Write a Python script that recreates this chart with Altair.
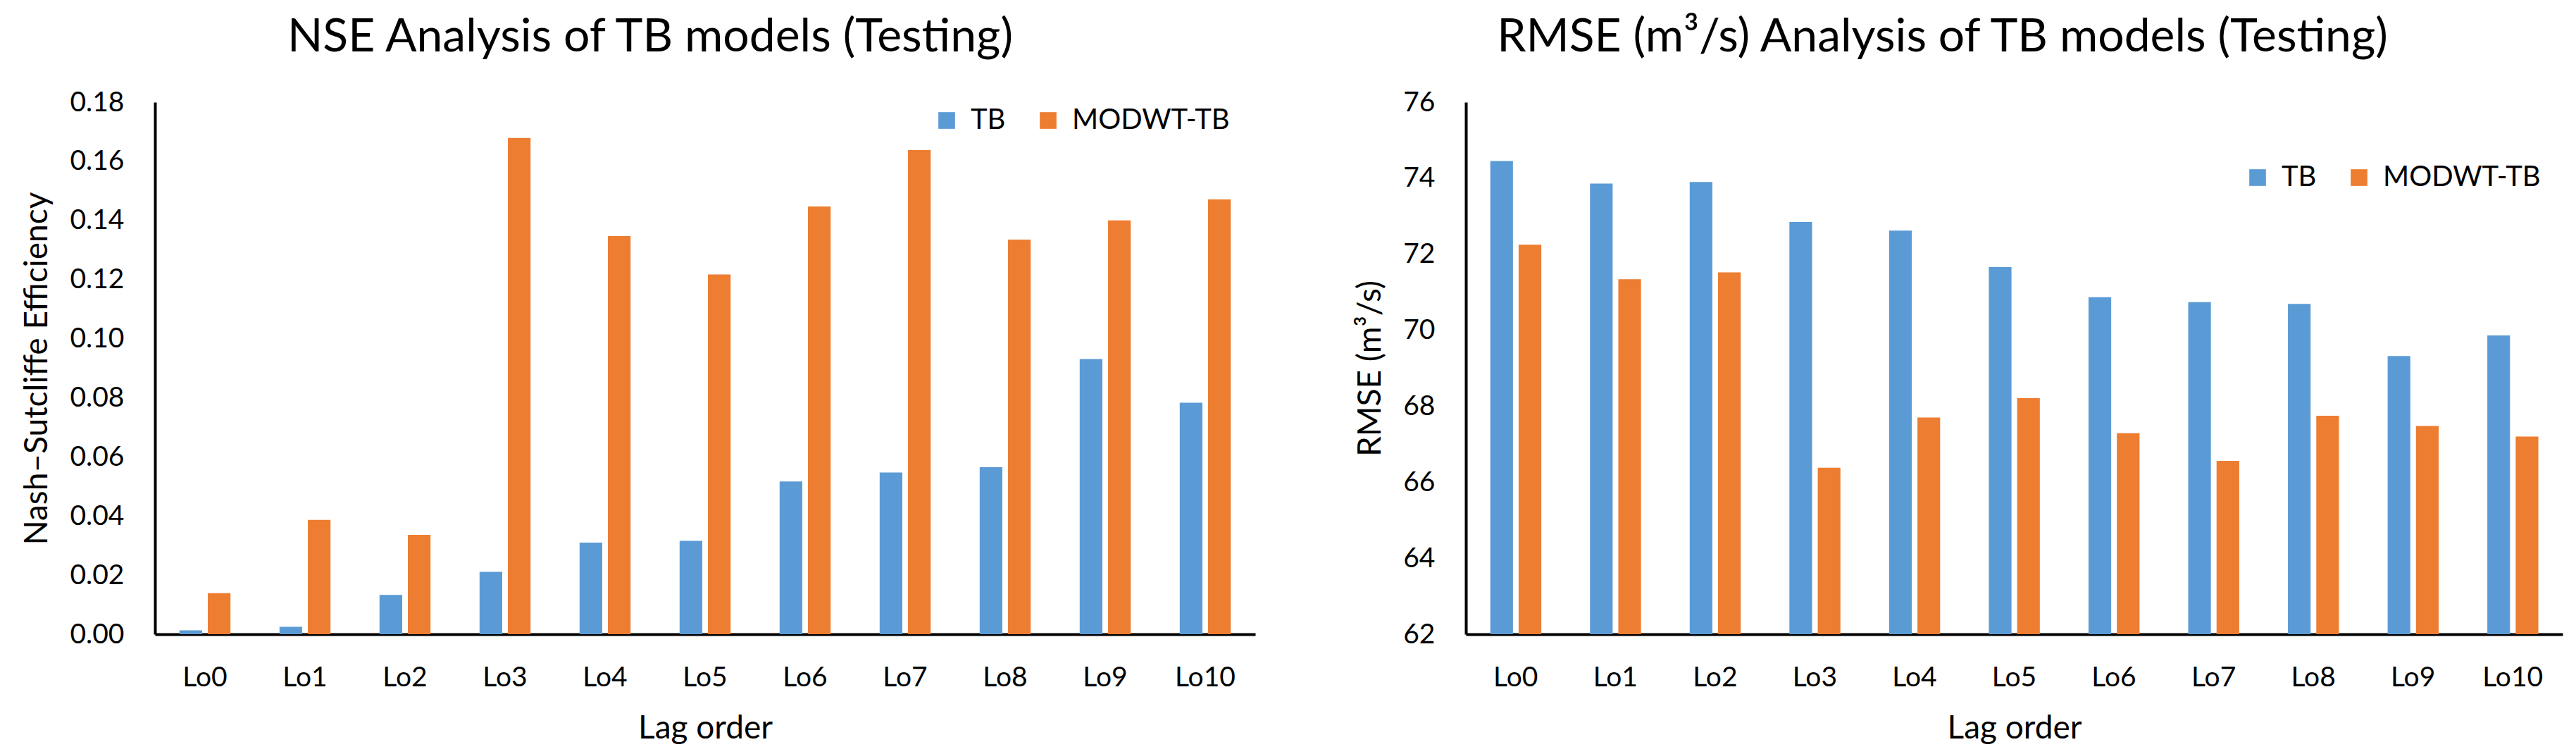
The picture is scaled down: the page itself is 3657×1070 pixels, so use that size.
import altair as alt
import pandas as pd

lags = ["Lo0", "Lo1", "Lo2", "Lo3", "Lo4", "Lo5", "Lo6", "Lo7", "Lo8", "Lo9", "Lo10"]
models = ["TB", "MODWT-TB"]
colors = ["#5B9BD5", "#ED7D31"]

nse_tb = [0.0013, 0.0025, 0.0133, 0.0211, 0.0310, 0.0316, 0.0517, 0.0547, 0.0565, 0.0931, 0.0783]
nse_modwt = [0.0139, 0.0387, 0.0336, 0.1679, 0.1347, 0.1217, 0.1447, 0.1638, 0.1335, 0.1400, 0.1471]

rmse_tb = [74.45, 73.86, 73.90, 72.85, 72.62, 71.66, 70.87, 70.74, 70.69, 69.32, 69.86]
rmse_modwt = [72.25, 71.34, 71.52, 66.38, 67.70, 68.21, 67.29, 66.56, 67.75, 67.48, 67.20]

nse_ticks = [0.00, 0.02, 0.04, 0.06, 0.08, 0.10, 0.12, 0.14, 0.16, 0.18]
rmse_ticks = [62, 64, 66, 68, 70, 72, 74, 76]

FONT = "Lato"


def long_df(a, b):
    rows = []
    for i, lag in enumerate(lags):
        rows.append({"Lag": lag, "Model": models[0], "Value": a[i]})
        rows.append({"Lag": lag, "Model": models[1], "Value": b[i]})
    return pd.DataFrame(rows)


def panel(df, title, title_dx, ytitle, domain, ticks, fmt, base, width, legend_y):
    return (
        alt.Chart(df, title=alt.TitleParams(
            title, fontSize=66, font=FONT, fontWeight="normal", color="black",
            anchor="middle", dx=title_dx, offset=39))
        .mark_bar()
        .encode(
            x=alt.X("Lag:N", sort=lags,
                    scale=alt.Scale(paddingInner=0.49, paddingOuter=0.245),
                    axis=alt.Axis(title="Lag order", labelAngle=0, ticks=False,
                                  labelPadding=42, titlePadding=30,
                                  domainColor="black", domainWidth=4)),
            xOffset=alt.XOffset("Model:N", sort=models,
                                scale=alt.Scale(paddingInner=0.2, paddingOuter=0)),
            y=alt.Y("Value:Q",
                    scale=alt.Scale(domain=domain, zero=False, nice=False),
                    axis=alt.Axis(title=ytitle, values=ticks, format=fmt, ticks=False,
                                  grid=False, labelPadding=44, titlePadding=22,
                                  domainColor="black", domainWidth=4)),
            y2=alt.datum(base),
            color=alt.Color("Model:N", sort=models,
                            scale=alt.Scale(domain=models, range=colors),
                            legend=alt.Legend(title=None, orient="none", direction="horizontal",
                                              legendX=1104, legendY=legend_y, padding=0,
                                              symbolType="square", symbolSize=560,
                                              symbolStrokeWidth=0, labelFontSize=40,
                                              labelFont=FONT, labelColor="black",
                                              labelLimit=600,
                                              labelOffset=14, columnPadding=40)),
        )
        .properties(width=width, height=755)
    )


left = panel(long_df(nse_tb, nse_modwt), "NSE Analysis of TB models (Testing)", -78,
             "Nash\u2013Sutcliffe Efficiency", [0, 0.18], nse_ticks, ".2f", 0, 1562, 6)
right = panel(long_df(rmse_tb, rmse_modwt), "RMSE (m\u00b3/s) Analysis of TB models (Testing)", -102,
              "RMSE (m\u00b3/s)", [62, 76], rmse_ticks, "d", 62, 1557, 87)

chart = (
    alt.hconcat(left, right, spacing=140)
    .resolve_legend(color="independent")
    .properties(padding={"left": 21, "top": 12, "right": 5, "bottom": 5})
    .configure_view(stroke=None)
    .configure_axis(labelFont=FONT, titleFont=FONT, labelFontSize=39, titleFontSize=46,
                    labelColor="black", titleColor="black", titleFontWeight="normal")
)

chart.save("out.html", embed_options={"renderer": "svg", "actions": False})
